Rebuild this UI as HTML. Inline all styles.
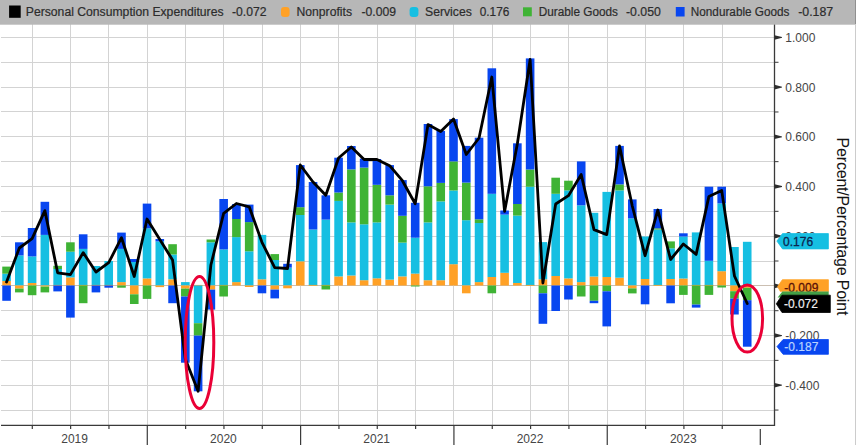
<!DOCTYPE html>
<html><head><meta charset="utf-8"><title>PCE contributions</title>
<style>
html,body{margin:0;padding:0;background:#ffffff;}
body{width:856px;height:445px;overflow:hidden;position:relative;font-family:"Liberation Sans",sans-serif;}
</style></head><body>
<svg width="856" height="445" viewBox="0 0 856 445" style="position:absolute;left:0;top:0">
<rect x="0" y="0" width="856" height="445" fill="#ffffff"/>
<g fill="#d3d3d3" shape-rendering="crispEdges">
<rect x="1" y="37" width="773" height="1"/>
<rect x="1" y="62" width="773" height="1"/>
<rect x="1" y="87" width="773" height="1"/>
<rect x="1" y="111" width="773" height="1"/>
<rect x="1" y="136" width="773" height="1"/>
<rect x="1" y="161" width="773" height="1"/>
<rect x="1" y="186" width="773" height="1"/>
<rect x="1" y="211" width="773" height="1"/>
<rect x="1" y="236" width="773" height="1"/>
<rect x="1" y="261" width="773" height="1"/>
<rect x="1" y="285" width="773" height="1" fill="#cbbfb2"/>
<rect x="1" y="310" width="773" height="1"/>
<rect x="1" y="335" width="773" height="1"/>
<rect x="1" y="360" width="773" height="1"/>
<rect x="1" y="385" width="773" height="1"/>
<rect x="1" y="410" width="773" height="1"/>
<rect x="32" y="24" width="1" height="401"/>
<rect x="70" y="24" width="1" height="401"/>
<rect x="108" y="24" width="1" height="401"/>
<rect x="147" y="24" width="1" height="401"/>
<rect x="185" y="24" width="1" height="401"/>
<rect x="223" y="24" width="1" height="401"/>
<rect x="262" y="24" width="1" height="401"/>
<rect x="300" y="24" width="1" height="401"/>
<rect x="338" y="24" width="1" height="401"/>
<rect x="377" y="24" width="1" height="401"/>
<rect x="415" y="24" width="1" height="401"/>
<rect x="453" y="24" width="1" height="401"/>
<rect x="492" y="24" width="1" height="401"/>
<rect x="530" y="24" width="1" height="401"/>
<rect x="568" y="24" width="1" height="401"/>
<rect x="607" y="24" width="1" height="401"/>
<rect x="645" y="24" width="1" height="401"/>
<rect x="683" y="24" width="1" height="401"/>
<rect x="722" y="24" width="1" height="401"/>
</g>
<g>
<rect x="2.26" y="281.00" width="8.6" height="4.50" fill="#ffa126"/>
<rect x="2.26" y="273.70" width="8.6" height="7.30" fill="#16bfe2"/>
<rect x="2.26" y="266.60" width="8.6" height="7.10" fill="#3fb335"/>
<rect x="2.26" y="285.50" width="8.6" height="15.30" fill="#0846f0"/>
<rect x="15.03" y="255.40" width="8.6" height="30.10" fill="#16bfe2"/>
<rect x="15.03" y="242.30" width="8.6" height="13.10" fill="#0846f0"/>
<rect x="15.03" y="285.50" width="8.6" height="3.10" fill="#ffa126"/>
<rect x="15.03" y="288.60" width="8.6" height="3.80" fill="#3fb335"/>
<rect x="27.80" y="283.00" width="8.6" height="2.50" fill="#ffa126"/>
<rect x="27.80" y="256.40" width="8.6" height="26.60" fill="#16bfe2"/>
<rect x="27.80" y="228.00" width="8.6" height="28.40" fill="#0846f0"/>
<rect x="27.80" y="285.50" width="8.6" height="9.70" fill="#3fb335"/>
<rect x="40.57" y="234.90" width="8.6" height="50.60" fill="#16bfe2"/>
<rect x="40.57" y="201.80" width="8.6" height="33.10" fill="#0846f0"/>
<rect x="40.57" y="285.50" width="8.6" height="1.10" fill="#ffa126"/>
<rect x="40.57" y="286.60" width="8.6" height="5.80" fill="#3fb335"/>
<rect x="53.34" y="269.00" width="8.6" height="16.50" fill="#16bfe2"/>
<rect x="53.34" y="265.80" width="8.6" height="3.20" fill="#3fb335"/>
<rect x="53.34" y="284.90" width="8.6" height="1.1" fill="#f5a43a" opacity="0.85"/>
<rect x="53.34" y="285.50" width="8.6" height="5.90" fill="#0846f0"/>
<rect x="66.11" y="277.40" width="8.6" height="8.10" fill="#ffa126"/>
<rect x="66.11" y="251.70" width="8.6" height="25.70" fill="#16bfe2"/>
<rect x="66.11" y="242.30" width="8.6" height="9.40" fill="#3fb335"/>
<rect x="66.11" y="285.50" width="8.6" height="32.10" fill="#0846f0"/>
<rect x="78.88" y="248.90" width="8.6" height="36.60" fill="#16bfe2"/>
<rect x="78.88" y="234.30" width="8.6" height="14.60" fill="#0846f0"/>
<rect x="78.88" y="284.90" width="8.6" height="1.1" fill="#f5a43a" opacity="0.85"/>
<rect x="78.88" y="285.50" width="8.6" height="17.70" fill="#3fb335"/>
<rect x="91.65" y="266.00" width="8.6" height="19.50" fill="#16bfe2"/>
<rect x="91.65" y="284.90" width="8.6" height="1.1" fill="#f5a43a" opacity="0.85"/>
<rect x="91.65" y="285.50" width="8.6" height="6.90" fill="#0846f0"/>
<rect x="104.42" y="261.00" width="8.6" height="24.50" fill="#16bfe2"/>
<rect x="104.42" y="284.90" width="8.6" height="1.1" fill="#f5a43a" opacity="0.85"/>
<rect x="104.42" y="285.50" width="8.6" height="2.20" fill="#0846f0"/>
<rect x="117.19" y="282.10" width="8.6" height="3.40" fill="#ffa126"/>
<rect x="117.19" y="248.90" width="8.6" height="33.20" fill="#16bfe2"/>
<rect x="117.19" y="232.60" width="8.6" height="16.30" fill="#0846f0"/>
<rect x="117.19" y="285.50" width="8.6" height="2.20" fill="#3fb335"/>
<rect x="129.96" y="262.00" width="8.6" height="23.50" fill="#16bfe2"/>
<rect x="129.96" y="259.00" width="8.6" height="3.00" fill="#0846f0"/>
<rect x="129.96" y="285.50" width="8.6" height="8.80" fill="#ffa126"/>
<rect x="129.96" y="294.30" width="8.6" height="9.70" fill="#3fb335"/>
<rect x="142.73" y="278.40" width="8.6" height="7.10" fill="#ffa126"/>
<rect x="142.73" y="228.30" width="8.6" height="50.10" fill="#16bfe2"/>
<rect x="142.73" y="203.60" width="8.6" height="24.70" fill="#0846f0"/>
<rect x="142.73" y="285.50" width="8.6" height="13.40" fill="#3fb335"/>
<rect x="155.50" y="241.40" width="8.6" height="44.10" fill="#16bfe2"/>
<rect x="155.50" y="239.00" width="8.6" height="2.40" fill="#0846f0"/>
<rect x="155.50" y="285.50" width="8.6" height="1.60" fill="#ffa126"/>
<rect x="168.27" y="279.30" width="8.6" height="6.20" fill="#ffa126"/>
<rect x="168.27" y="254.50" width="8.6" height="24.80" fill="#16bfe2"/>
<rect x="168.27" y="244.20" width="8.6" height="10.30" fill="#3fb335"/>
<rect x="168.27" y="285.50" width="8.6" height="17.70" fill="#0846f0"/>
<rect x="181.04" y="282.10" width="8.6" height="3.40" fill="#16bfe2"/>
<rect x="181.04" y="285.50" width="8.6" height="3.10" fill="#ffa126"/>
<rect x="181.04" y="288.60" width="8.6" height="7.90" fill="#3fb335"/>
<rect x="181.04" y="296.50" width="8.6" height="66.20" fill="#0846f0"/>
<rect x="193.81" y="284.90" width="8.6" height="1.1" fill="#f5a43a" opacity="0.85"/>
<rect x="193.81" y="285.50" width="8.6" height="37.70" fill="#16bfe2"/>
<rect x="193.81" y="323.20" width="8.6" height="12.40" fill="#3fb335"/>
<rect x="193.81" y="335.60" width="8.6" height="55.70" fill="#0846f0"/>
<rect x="206.58" y="242.30" width="8.6" height="43.20" fill="#16bfe2"/>
<rect x="206.58" y="239.50" width="8.6" height="2.80" fill="#3fb335"/>
<rect x="206.58" y="285.50" width="8.6" height="4.10" fill="#ffa126"/>
<rect x="206.58" y="289.60" width="8.6" height="20.00" fill="#0846f0"/>
<rect x="219.35" y="249.40" width="8.6" height="36.10" fill="#16bfe2"/>
<rect x="219.35" y="199.00" width="8.6" height="50.40" fill="#0846f0"/>
<rect x="219.35" y="284.90" width="8.6" height="1.1" fill="#f5a43a" opacity="0.85"/>
<rect x="219.35" y="285.50" width="8.6" height="11.00" fill="#3fb335"/>
<rect x="232.12" y="282.10" width="8.6" height="3.40" fill="#ffa126"/>
<rect x="232.12" y="237.10" width="8.6" height="45.00" fill="#16bfe2"/>
<rect x="232.12" y="219.00" width="8.6" height="18.10" fill="#3fb335"/>
<rect x="232.12" y="204.00" width="8.6" height="15.00" fill="#0846f0"/>
<rect x="244.89" y="251.30" width="8.6" height="34.20" fill="#16bfe2"/>
<rect x="244.89" y="222.10" width="8.6" height="29.20" fill="#3fb335"/>
<rect x="244.89" y="204.60" width="8.6" height="17.50" fill="#0846f0"/>
<rect x="244.89" y="285.50" width="8.6" height="1.50" fill="#ffa126"/>
<rect x="257.66" y="279.30" width="8.6" height="6.20" fill="#ffa126"/>
<rect x="257.66" y="234.90" width="8.6" height="44.40" fill="#16bfe2"/>
<rect x="257.66" y="285.50" width="8.6" height="7.80" fill="#0846f0"/>
<rect x="270.43" y="260.00" width="8.6" height="25.50" fill="#16bfe2"/>
<rect x="270.43" y="254.10" width="8.6" height="5.90" fill="#3fb335"/>
<rect x="270.43" y="285.50" width="8.6" height="4.10" fill="#ffa126"/>
<rect x="270.43" y="289.60" width="8.6" height="8.80" fill="#0846f0"/>
<rect x="283.20" y="267.60" width="8.6" height="17.90" fill="#16bfe2"/>
<rect x="283.20" y="263.80" width="8.6" height="3.80" fill="#0846f0"/>
<rect x="283.20" y="285.50" width="8.6" height="2.80" fill="#ffa126"/>
<rect x="295.97" y="261.30" width="8.6" height="24.20" fill="#ffa126"/>
<rect x="295.97" y="215.00" width="8.6" height="46.30" fill="#16bfe2"/>
<rect x="295.97" y="207.20" width="8.6" height="7.80" fill="#3fb335"/>
<rect x="295.97" y="165.10" width="8.6" height="42.10" fill="#0846f0"/>
<rect x="308.74" y="229.50" width="8.6" height="56.00" fill="#16bfe2"/>
<rect x="308.74" y="182.00" width="8.6" height="47.50" fill="#0846f0"/>
<rect x="308.74" y="284.90" width="8.6" height="1.1" fill="#f5a43a" opacity="0.85"/>
<rect x="321.51" y="219.60" width="8.6" height="65.90" fill="#16bfe2"/>
<rect x="321.51" y="195.30" width="8.6" height="24.30" fill="#0846f0"/>
<rect x="321.51" y="284.90" width="8.6" height="1.1" fill="#f5a43a" opacity="0.85"/>
<rect x="321.51" y="285.50" width="8.6" height="4.00" fill="#3fb335"/>
<rect x="334.28" y="276.40" width="8.6" height="9.10" fill="#ffa126"/>
<rect x="334.28" y="200.90" width="8.6" height="75.50" fill="#16bfe2"/>
<rect x="334.28" y="192.50" width="8.6" height="8.40" fill="#3fb335"/>
<rect x="334.28" y="157.70" width="8.6" height="34.80" fill="#0846f0"/>
<rect x="347.05" y="275.50" width="8.6" height="10.00" fill="#ffa126"/>
<rect x="347.05" y="222.40" width="8.6" height="53.10" fill="#16bfe2"/>
<rect x="347.05" y="169.40" width="8.6" height="53.00" fill="#3fb335"/>
<rect x="347.05" y="146.00" width="8.6" height="23.40" fill="#0846f0"/>
<rect x="359.82" y="280.20" width="8.6" height="5.30" fill="#ffa126"/>
<rect x="359.82" y="224.30" width="8.6" height="55.90" fill="#16bfe2"/>
<rect x="359.82" y="167.60" width="8.6" height="56.70" fill="#3fb335"/>
<rect x="359.82" y="158.60" width="8.6" height="9.00" fill="#0846f0"/>
<rect x="372.59" y="278.30" width="8.6" height="7.20" fill="#ffa126"/>
<rect x="372.59" y="222.40" width="8.6" height="55.90" fill="#16bfe2"/>
<rect x="372.59" y="184.80" width="8.6" height="37.60" fill="#3fb335"/>
<rect x="372.59" y="159.00" width="8.6" height="25.80" fill="#0846f0"/>
<rect x="385.36" y="279.60" width="8.6" height="5.90" fill="#ffa126"/>
<rect x="385.36" y="204.60" width="8.6" height="75.00" fill="#16bfe2"/>
<rect x="385.36" y="195.30" width="8.6" height="9.30" fill="#3fb335"/>
<rect x="385.36" y="165.10" width="8.6" height="30.20" fill="#0846f0"/>
<rect x="398.13" y="276.40" width="8.6" height="9.10" fill="#ffa126"/>
<rect x="398.13" y="242.60" width="8.6" height="33.80" fill="#16bfe2"/>
<rect x="398.13" y="215.80" width="8.6" height="26.80" fill="#3fb335"/>
<rect x="398.13" y="180.10" width="8.6" height="35.70" fill="#0846f0"/>
<rect x="410.90" y="273.60" width="8.6" height="11.90" fill="#ffa126"/>
<rect x="410.90" y="237.70" width="8.6" height="35.90" fill="#16bfe2"/>
<rect x="410.90" y="202.80" width="8.6" height="34.90" fill="#0846f0"/>
<rect x="410.90" y="285.50" width="8.6" height="1.00" fill="#3fb335"/>
<rect x="423.67" y="280.20" width="8.6" height="5.30" fill="#ffa126"/>
<rect x="423.67" y="222.40" width="8.6" height="57.80" fill="#16bfe2"/>
<rect x="423.67" y="186.30" width="8.6" height="36.10" fill="#3fb335"/>
<rect x="423.67" y="124.00" width="8.6" height="62.30" fill="#0846f0"/>
<rect x="436.44" y="280.20" width="8.6" height="5.30" fill="#ffa126"/>
<rect x="436.44" y="201.40" width="8.6" height="78.80" fill="#16bfe2"/>
<rect x="436.44" y="182.90" width="8.6" height="18.50" fill="#3fb335"/>
<rect x="436.44" y="130.90" width="8.6" height="52.00" fill="#0846f0"/>
<rect x="449.21" y="264.20" width="8.6" height="21.30" fill="#ffa126"/>
<rect x="449.21" y="190.50" width="8.6" height="73.70" fill="#16bfe2"/>
<rect x="449.21" y="161.40" width="8.6" height="29.10" fill="#3fb335"/>
<rect x="449.21" y="119.10" width="8.6" height="42.30" fill="#0846f0"/>
<rect x="461.98" y="220.20" width="8.6" height="65.30" fill="#16bfe2"/>
<rect x="461.98" y="182.60" width="8.6" height="37.60" fill="#3fb335"/>
<rect x="461.98" y="145.90" width="8.6" height="36.70" fill="#0846f0"/>
<rect x="461.98" y="285.50" width="8.6" height="7.80" fill="#ffa126"/>
<rect x="474.75" y="282.10" width="8.6" height="3.40" fill="#ffa126"/>
<rect x="474.75" y="223.00" width="8.6" height="59.10" fill="#16bfe2"/>
<rect x="474.75" y="219.30" width="8.6" height="3.70" fill="#3fb335"/>
<rect x="474.75" y="137.70" width="8.6" height="81.60" fill="#0846f0"/>
<rect x="487.52" y="277.00" width="8.6" height="8.50" fill="#ffa126"/>
<rect x="487.52" y="193.80" width="8.6" height="83.20" fill="#16bfe2"/>
<rect x="487.52" y="68.30" width="8.6" height="125.50" fill="#0846f0"/>
<rect x="487.52" y="285.50" width="8.6" height="7.80" fill="#3fb335"/>
<rect x="500.29" y="272.80" width="8.6" height="12.70" fill="#ffa126"/>
<rect x="500.29" y="214.60" width="8.6" height="58.20" fill="#16bfe2"/>
<rect x="500.29" y="210.50" width="8.6" height="4.10" fill="#0846f0"/>
<rect x="513.06" y="283.00" width="8.6" height="2.50" fill="#ffa126"/>
<rect x="513.06" y="215.60" width="8.6" height="67.40" fill="#16bfe2"/>
<rect x="513.06" y="204.00" width="8.6" height="11.60" fill="#3fb335"/>
<rect x="513.06" y="143.30" width="8.6" height="60.70" fill="#0846f0"/>
<rect x="525.83" y="186.70" width="8.6" height="98.80" fill="#16bfe2"/>
<rect x="525.83" y="169.50" width="8.6" height="17.20" fill="#3fb335"/>
<rect x="525.83" y="58.40" width="8.6" height="111.10" fill="#0846f0"/>
<rect x="525.83" y="284.90" width="8.6" height="1.1" fill="#f5a43a" opacity="0.85"/>
<rect x="538.60" y="279.30" width="8.6" height="6.20" fill="#ffa126"/>
<rect x="538.60" y="242.10" width="8.6" height="37.20" fill="#16bfe2"/>
<rect x="538.60" y="285.50" width="8.6" height="7.80" fill="#3fb335"/>
<rect x="538.60" y="293.30" width="8.6" height="30.50" fill="#0846f0"/>
<rect x="551.37" y="276.00" width="8.6" height="9.50" fill="#ffa126"/>
<rect x="551.37" y="193.80" width="8.6" height="82.20" fill="#16bfe2"/>
<rect x="551.37" y="177.70" width="8.6" height="16.10" fill="#3fb335"/>
<rect x="551.37" y="285.50" width="8.6" height="25.50" fill="#0846f0"/>
<rect x="564.14" y="278.40" width="8.6" height="7.10" fill="#ffa126"/>
<rect x="564.14" y="190.40" width="8.6" height="88.00" fill="#16bfe2"/>
<rect x="564.14" y="180.70" width="8.6" height="9.70" fill="#3fb335"/>
<rect x="564.14" y="285.50" width="8.6" height="14.00" fill="#0846f0"/>
<rect x="576.91" y="282.10" width="8.6" height="3.40" fill="#ffa126"/>
<rect x="576.91" y="205.30" width="8.6" height="76.80" fill="#16bfe2"/>
<rect x="576.91" y="161.40" width="8.6" height="43.90" fill="#0846f0"/>
<rect x="576.91" y="285.50" width="8.6" height="11.00" fill="#3fb335"/>
<rect x="589.68" y="276.50" width="8.6" height="9.00" fill="#ffa126"/>
<rect x="589.68" y="212.80" width="8.6" height="63.70" fill="#16bfe2"/>
<rect x="589.68" y="285.50" width="8.6" height="15.30" fill="#3fb335"/>
<rect x="589.68" y="300.80" width="8.6" height="2.40" fill="#0846f0"/>
<rect x="602.45" y="277.00" width="8.6" height="8.50" fill="#ffa126"/>
<rect x="602.45" y="191.90" width="8.6" height="85.10" fill="#16bfe2"/>
<rect x="602.45" y="285.50" width="8.6" height="5.80" fill="#3fb335"/>
<rect x="602.45" y="291.30" width="8.6" height="35.10" fill="#0846f0"/>
<rect x="615.22" y="277.70" width="8.6" height="7.80" fill="#ffa126"/>
<rect x="615.22" y="190.40" width="8.6" height="87.30" fill="#16bfe2"/>
<rect x="615.22" y="184.40" width="8.6" height="6.00" fill="#3fb335"/>
<rect x="615.22" y="145.90" width="8.6" height="38.50" fill="#0846f0"/>
<rect x="627.99" y="218.40" width="8.6" height="67.10" fill="#16bfe2"/>
<rect x="627.99" y="199.40" width="8.6" height="19.00" fill="#0846f0"/>
<rect x="627.99" y="285.50" width="8.6" height="2.90" fill="#ffa126"/>
<rect x="627.99" y="288.40" width="8.6" height="5.00" fill="#3fb335"/>
<rect x="640.76" y="279.00" width="8.6" height="6.50" fill="#ffa126"/>
<rect x="640.76" y="236.50" width="8.6" height="42.50" fill="#16bfe2"/>
<rect x="640.76" y="285.50" width="8.6" height="18.80" fill="#0846f0"/>
<rect x="653.53" y="229.50" width="8.6" height="56.00" fill="#16bfe2"/>
<rect x="653.53" y="228.30" width="8.6" height="1.20" fill="#3fb335"/>
<rect x="653.53" y="209.00" width="8.6" height="19.30" fill="#0846f0"/>
<rect x="653.53" y="284.90" width="8.6" height="1.1" fill="#f5a43a" opacity="0.85"/>
<rect x="666.30" y="279.00" width="8.6" height="6.50" fill="#ffa126"/>
<rect x="666.30" y="248.30" width="8.6" height="30.70" fill="#16bfe2"/>
<rect x="666.30" y="241.40" width="8.6" height="6.90" fill="#3fb335"/>
<rect x="666.30" y="285.50" width="8.6" height="17.80" fill="#0846f0"/>
<rect x="679.07" y="278.50" width="8.6" height="7.00" fill="#ffa126"/>
<rect x="679.07" y="236.50" width="8.6" height="42.00" fill="#16bfe2"/>
<rect x="679.07" y="233.30" width="8.6" height="3.20" fill="#0846f0"/>
<rect x="679.07" y="285.50" width="8.6" height="9.40" fill="#3fb335"/>
<rect x="691.84" y="232.40" width="8.6" height="53.10" fill="#16bfe2"/>
<rect x="691.84" y="284.90" width="8.6" height="1.1" fill="#f5a43a" opacity="0.85"/>
<rect x="691.84" y="285.50" width="8.6" height="19.10" fill="#3fb335"/>
<rect x="691.84" y="304.60" width="8.6" height="3.00" fill="#0846f0"/>
<rect x="704.61" y="260.80" width="8.6" height="24.70" fill="#16bfe2"/>
<rect x="704.61" y="186.70" width="8.6" height="74.10" fill="#0846f0"/>
<rect x="704.61" y="284.90" width="8.6" height="1.1" fill="#f5a43a" opacity="0.85"/>
<rect x="704.61" y="285.50" width="8.6" height="9.40" fill="#3fb335"/>
<rect x="717.38" y="271.20" width="8.6" height="14.30" fill="#ffa126"/>
<rect x="717.38" y="203.40" width="8.6" height="67.80" fill="#16bfe2"/>
<rect x="717.38" y="186.70" width="8.6" height="16.70" fill="#0846f0"/>
<rect x="717.38" y="285.50" width="8.6" height="2.00" fill="#3fb335"/>
<rect x="730.15" y="247.00" width="8.6" height="38.50" fill="#16bfe2"/>
<rect x="730.15" y="285.50" width="8.6" height="5.70" fill="#ffa126"/>
<rect x="730.15" y="291.20" width="8.6" height="7.40" fill="#3fb335"/>
<rect x="730.15" y="298.60" width="8.6" height="15.90" fill="#0846f0"/>
<rect x="742.92" y="241.80" width="8.6" height="43.70" fill="#16bfe2"/>
<rect x="742.92" y="285.50" width="8.6" height="2.30" fill="#ffa126"/>
<rect x="742.92" y="287.80" width="8.6" height="12.40" fill="#3fb335"/>
<rect x="742.92" y="300.20" width="8.6" height="46.50" fill="#0846f0"/>
</g>
<polyline points="6.56,282.00 19.33,248.00 32.10,238.60 44.87,210.60 57.64,272.80 70.41,274.60 83.18,252.60 95.95,272.00 108.72,262.70 121.49,237.70 134.26,276.50 147.03,219.00 159.80,239.50 172.57,260.00 185.34,359.00 198.11,391.30 210.88,265.00 223.65,213.40 236.42,203.50 249.19,206.80 261.96,242.30 274.73,267.60 287.50,268.50 300.27,165.00 313.04,182.00 325.81,195.30 338.58,158.00 351.35,147.00 364.12,159.50 376.89,159.50 389.66,165.70 402.43,180.70 415.20,203.70 427.97,124.60 440.74,131.50 453.51,119.00 466.28,154.50 479.05,138.00 491.82,77.00 504.59,211.40 517.36,143.70 530.13,59.50 542.90,283.00 555.67,204.00 568.44,195.70 581.21,174.50 593.98,229.60 606.75,234.60 619.52,146.00 632.29,206.00 645.06,255.70 657.83,210.00 670.60,259.50 683.37,244.00 696.14,254.40 708.91,196.40 721.68,190.40 734.45,276.00 747.22,303.50" fill="none" stroke="#000000" stroke-width="2.8" stroke-linejoin="round" stroke-linecap="round"/>
<ellipse cx="199.5" cy="342.5" rx="14.3" ry="66" fill="none" stroke="#ea0036" stroke-width="3"/>
<ellipse cx="747.3" cy="318.5" rx="15.3" ry="33.6" fill="none" stroke="#ea0036" stroke-width="3"/>
<g stroke="#3a3a3a" stroke-width="1.3" fill="none">
<line x1="1" y1="425.4" x2="775" y2="425.4"/>
<line x1="774.5" y1="24" x2="774.5" y2="426"/>
</g>
<g stroke="#3a3a3a" stroke-width="1.2">
<line x1="32.30" y1="425" x2="32.30" y2="429"/>
<line x1="70.63" y1="425" x2="70.63" y2="429"/>
<line x1="108.96" y1="425" x2="108.96" y2="429"/>
<line x1="147.29" y1="425" x2="147.29" y2="445"/>
<line x1="185.62" y1="425" x2="185.62" y2="429"/>
<line x1="223.95" y1="425" x2="223.95" y2="429"/>
<line x1="262.28" y1="425" x2="262.28" y2="429"/>
<line x1="300.61" y1="425" x2="300.61" y2="445"/>
<line x1="338.94" y1="425" x2="338.94" y2="429"/>
<line x1="377.27" y1="425" x2="377.27" y2="429"/>
<line x1="415.60" y1="425" x2="415.60" y2="429"/>
<line x1="453.93" y1="425" x2="453.93" y2="445"/>
<line x1="492.26" y1="425" x2="492.26" y2="429"/>
<line x1="530.59" y1="425" x2="530.59" y2="429"/>
<line x1="568.92" y1="425" x2="568.92" y2="429"/>
<line x1="607.25" y1="425" x2="607.25" y2="445"/>
<line x1="645.58" y1="425" x2="645.58" y2="429"/>
<line x1="683.91" y1="425" x2="683.91" y2="429"/>
<line x1="722.24" y1="425" x2="722.24" y2="429"/>
<line x1="760.3" y1="429" x2="760.3" y2="445"/>
</g>
<g fill="#2e2e2e" stroke="none">
<path d="M774.5 35.15 L782 37.05 L782 37.85 L774.5 39.75 Z"/>
<path d="M774.5 84.83 L782 86.73 L782 87.53 L774.5 89.43 Z"/>
<path d="M774.5 134.51 L782 136.41 L782 137.21 L774.5 139.11 Z"/>
<path d="M774.5 184.19 L782 186.09 L782 186.89 L774.5 188.79 Z"/>
<path d="M774.5 233.87 L782 235.77 L782 236.57 L774.5 238.47 Z"/>
<path d="M774.5 283.55 L782 285.45 L782 286.25 L774.5 288.15 Z"/>
<path d="M774.5 333.23 L782 335.13 L782 335.93 L774.5 337.83 Z"/>
<path d="M774.5 382.91 L782 384.81 L782 385.61 L774.5 387.51 Z"/>
</g>
<g stroke="#3a3a3a" stroke-width="1">
<line x1="774.5" y1="62.29" x2="778.5" y2="62.29"/>
<line x1="774.5" y1="111.97" x2="778.5" y2="111.97"/>
<line x1="774.5" y1="161.65" x2="778.5" y2="161.65"/>
<line x1="774.5" y1="211.33" x2="778.5" y2="211.33"/>
<line x1="774.5" y1="261.01" x2="778.5" y2="261.01"/>
<line x1="774.5" y1="310.69" x2="778.5" y2="310.69"/>
<line x1="774.5" y1="360.37" x2="778.5" y2="360.37"/>
<line x1="774.5" y1="410.05" x2="778.5" y2="410.05"/>
</g>
<g font-family="Liberation Sans, sans-serif" font-size="12" fill="#454545">
<text x="785.3" y="41.85">1.000</text>
<text x="785.3" y="91.53">0.800</text>
<text x="785.3" y="141.21">0.600</text>
<text x="785.3" y="190.89">0.400</text>
<text x="785.3" y="240.57">0.200</text>
<text x="785.3" y="339.93">-0.200</text>
<text x="785.3" y="389.61">-0.400</text>
<text x="74.6" y="442.6" text-anchor="middle">2019</text>
<text x="223.4" y="442.6" text-anchor="middle">2020</text>
<text x="376.7" y="442.6" text-anchor="middle">2021</text>
<text x="530.0" y="442.6" text-anchor="middle">2022</text>
<text x="683.3" y="442.6" text-anchor="middle">2023</text>
</g>
<path d="M776.9 241.1 L782.5 233.6 L828.4 233.6 L828.4 248.9 L782.5 248.9 Z" fill="#16bfe2" stroke="#16bfe2" stroke-width="0.8" stroke-linejoin="round"/>
<text x="783.1" y="246.4" font-family="Liberation Sans, sans-serif" font-size="12" fill="#0b2550" stroke="#0b2550" stroke-width="0.3">0.176</text>
<clipPath id="oc"><rect x="770" y="270" width="70" height="21.7"/></clipPath>
<g clip-path="url(#oc)">
<path d="M777.6 286.6 L782.4 279.7 L828.4 279.7 L828.4 295.0 L782.4 295.0 Z" fill="#ffa126" stroke="#ffa126" stroke-width="0.8" stroke-linejoin="round"/>
<text x="784.3" y="292.4" font-family="Liberation Sans, sans-serif" font-size="12" fill="#5a1208" stroke="#5a1208" stroke-width="0.3">-0.009</text>
</g>
<path d="M777.6 297.5 L782.4 291.6 L828.7 291.6 L828.7 297.5 Z" fill="#43a047"/>
<path d="M776.3 303.8 L782.0 295.2 L830.3 295.2 L830.3 312.5 L782.0 312.5 Z" fill="#000000" stroke="#000000" stroke-width="0.8" stroke-linejoin="round"/>
<text x="783.9" y="307.6" font-family="Liberation Sans, sans-serif" font-size="12" fill="#f2f2f2" stroke="#f2f2f2" stroke-width="0.15">-0.072</text>
<path d="M777.0 346.6 L783.1 339.5 L828.4 339.5 L828.4 354.3 L783.1 354.3 Z" fill="#0846f0" stroke="#0846f0" stroke-width="0.8" stroke-linejoin="round"/>
<text x="784.3" y="351.2" font-family="Liberation Sans, sans-serif" font-size="12" fill="#b9d3ff" stroke="#b9d3ff" stroke-width="0.2">-0.187</text>
<text transform="translate(837.3 137.6) rotate(90)" font-family="Liberation Sans, sans-serif" font-size="16" letter-spacing="-0.2" fill="#141414">Percent/Percentage Point</text>
<rect x="0" y="0" width="856" height="24.7" fill="#b7b7b7"/>
<g font-family="Liberation Sans, sans-serif" font-size="12" fill="#2c2c2c">
<rect x="9.1" y="5.5" width="11.6" height="12.3" fill="#000"/>
<text x="25.8" y="16.2" textLength="197.7" lengthAdjust="spacingAndGlyphs" stroke="#2c2c2c" stroke-width="0.2">Personal Consumption Expenditures</text>
<text x="232" y="16.2" textLength="34.5" lengthAdjust="spacingAndGlyphs" stroke="#2c2c2c" stroke-width="0.2">-0.072</text>
<rect x="281" y="7" width="8.6" height="10" rx="3.2" fill="#ffa126"/>
<text x="296.5" y="16.2" textLength="55.5" lengthAdjust="spacingAndGlyphs" stroke="#2c2c2c" stroke-width="0.2">Nonprofits</text>
<text x="361.5" y="16.2" textLength="34.5" lengthAdjust="spacingAndGlyphs" stroke="#2c2c2c" stroke-width="0.2">-0.009</text>
<rect x="409.6" y="7" width="8.8" height="10" rx="3.2" fill="#16bfe2"/>
<text x="425" y="16.2" textLength="46.8" lengthAdjust="spacingAndGlyphs" stroke="#2c2c2c" stroke-width="0.2">Services</text>
<text x="479.7" y="16.2" textLength="29.6" lengthAdjust="spacingAndGlyphs" stroke="#2c2c2c" stroke-width="0.2">0.176</text>
<rect x="523" y="7.3" width="8.8" height="9" fill="#3fb335"/>
<text x="538.7" y="16.2" textLength="79.3" lengthAdjust="spacingAndGlyphs" stroke="#2c2c2c" stroke-width="0.2">Durable Goods</text>
<text x="626" y="16.2" textLength="34.8" lengthAdjust="spacingAndGlyphs" stroke="#2c2c2c" stroke-width="0.2">-0.050</text>
<rect x="675.8" y="7" width="8.8" height="9.5" fill="#0846f0"/>
<text x="690.8" y="16.2" textLength="98.7" lengthAdjust="spacingAndGlyphs" stroke="#2c2c2c" stroke-width="0.2">Nondurable Goods</text>
<text x="798.2" y="16.2" textLength="35.0" lengthAdjust="spacingAndGlyphs" stroke="#2c2c2c" stroke-width="0.2">-0.187</text>
</g>
<rect x="855" y="0" width="1" height="24" fill="#8f8f8f"/>
<rect x="855" y="24" width="1" height="421" fill="#cccccc"/>
</svg>
</body></html>
